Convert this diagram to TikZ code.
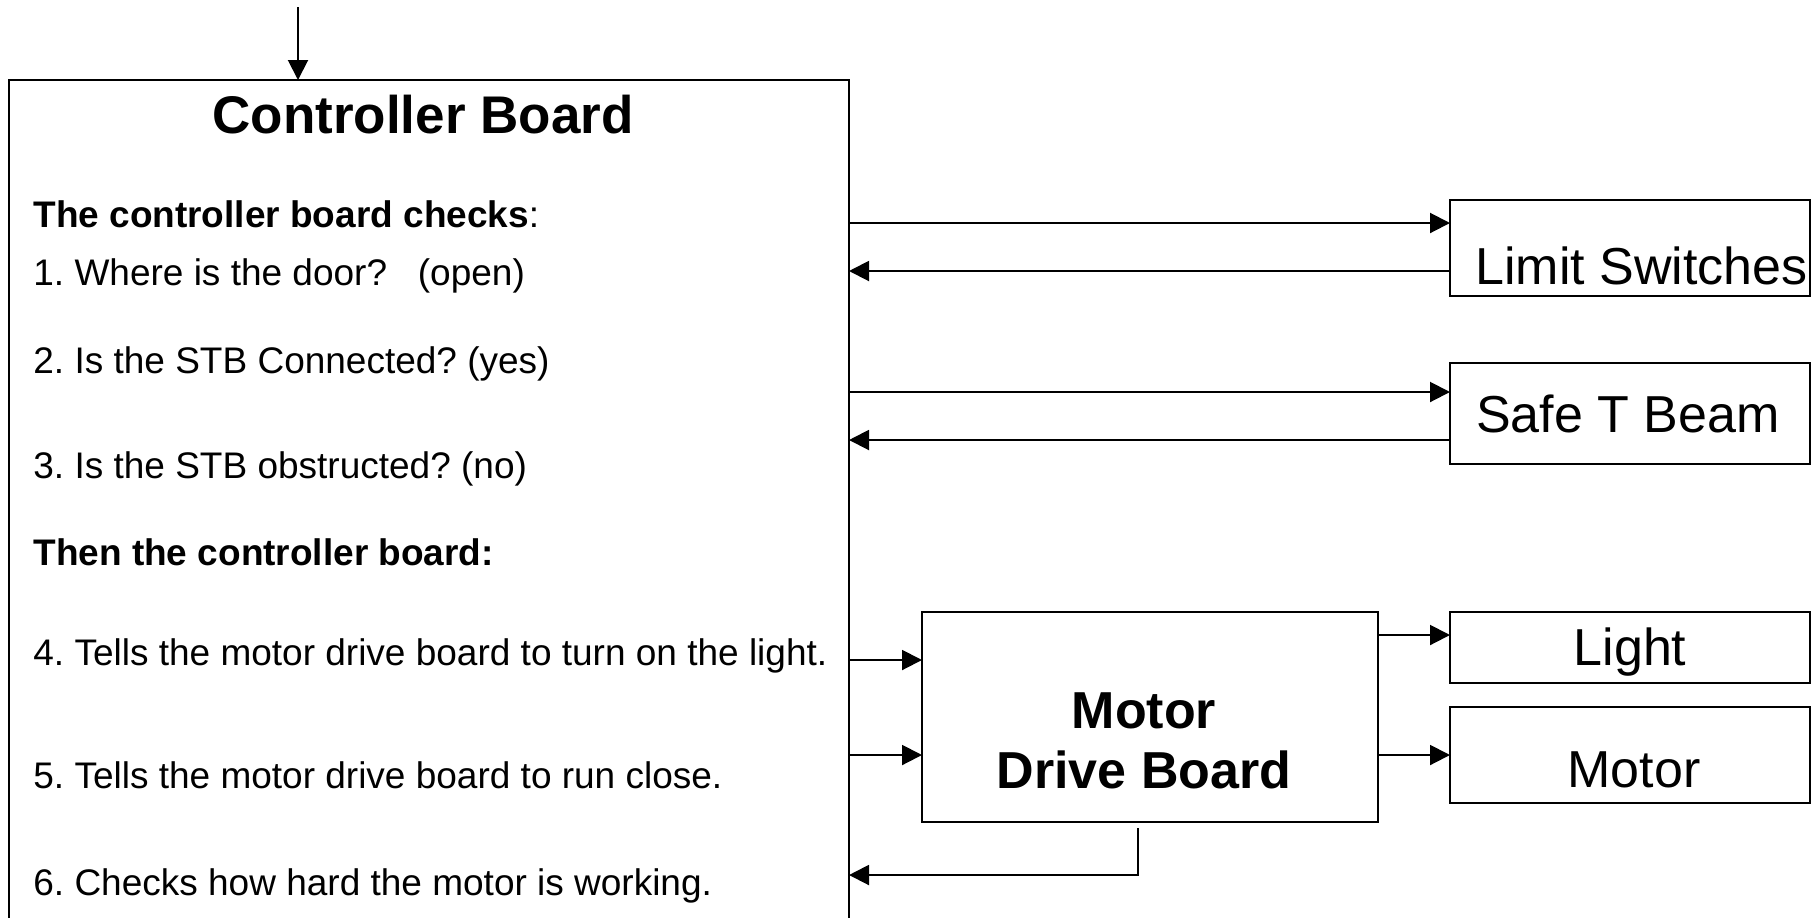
\documentclass[tikz,border=0pt]{standalone}
\usepackage{fontspec}
\setmainfont{Liberation Sans}
\usetikzlibrary{arrows.meta}
\frenchspacing
\begin{document}
\begin{tikzpicture}[x=0.5pt, y=-0.5pt,
  box/.style={draw, line width=1pt, inner sep=0pt, outer sep=0pt, anchor=north west},
  arr/.style={line width=1pt, -{Triangle[length=10pt, width=10pt]}},
  body/.style={font=\fontsize{18.5pt}{22pt}\selectfont, inner sep=0pt, anchor=base west},
  titletext/.style={font=\fontsize{26.5pt}{30pt}\selectfont\bfseries, inner sep=0pt, anchor=base},
  bigtext/.style={font=\fontsize{26pt}{30pt}\selectfont, inner sep=0pt, anchor=base},
  bigbold/.style={font=\fontsize{26pt}{30pt}\selectfont\bfseries, inner sep=0pt, anchor=base}]
\useasboundingbox (0,0) rectangle (1819,917);
\clip (0,0) rectangle (1819,917);
\fill[white] (0,0) rectangle (1819,917);

% boxes
\node[box, minimum width=420pt, minimum height=440pt] (cb) at (9,80) {};
\node[box, minimum width=180pt, minimum height=48pt] (ls) at (1450,200) {};
\node[box, minimum width=180pt, minimum height=50.5pt] (stb) at (1450,363) {};
\node[box, minimum width=228pt, minimum height=105pt] (mdb) at (922,612) {};
\node[box, minimum width=180pt, minimum height=35.5pt] (light) at (1450,612) {};
\node[box, minimum width=180pt, minimum height=48pt] (motor) at (1450,707) {};

% texts
\node[titletext] (cbtitle) at (423,133) {Controller Board};
\node[body] (t0) at (33,227) {{\bfseries The controller board checks}:};
\node[body] (t1) at (33,285) {1. Where is the door?\ \ \ (open)};
\node[body] (t2) at (33,373) {2. Is the STB Connected? (yes)};
\node[body] (t3) at (33,478) {3. Is the STB obstructed? (no)};
\node[body] (t4) at (33,565) {\bfseries Then the controller board:};
\node[body] (t5) at (33,665) {4. Tells the motor drive board to turn on the light.};
\node[body] (t6) at (33,788) {5. Tells the motor drive board to run close.};
\node[body] (t7) at (33,895) {6. Checks how hard the motor is working.};

\node[bigtext, anchor=base west] (lstext) at (1475,284) {Limit Switches};
\node[bigtext] (stbtext) at (1628,432) {Safe T Beam};
\node[bigtext] (lighttext) at (1630,665) {Light};
\node[bigtext] (motortext) at (1634,787) {Motor};
\node[bigbold] (mdb1) at (1144,728) {Motor};
\node[bigbold] (mdb2) at (1144,788) {Drive Board};

% helper coordinates
\coordinate (top) at (298,7);
\coordinate (y1) at (0,223);
\coordinate (y2) at (0,271);
\coordinate (y3) at (0,392);
\coordinate (y4) at (0,440);
\coordinate (y5) at (0,660);
\coordinate (y6) at (0,755);
\coordinate (y7) at (0,635);
\coordinate (y8) at (0,875);
\coordinate (fb) at (1138,828);

% connectors
\draw[arr] (top) -- (top |- cb.north);
\draw[arr] (cb.east |- y1) -- (ls.west |- y1);
\draw[arr] (ls.west |- y2) -- (cb.east |- y2);
\draw[arr] (cb.east |- y3) -- (stb.west |- y3);
\draw[arr] (stb.west |- y4) -- (cb.east |- y4);
\draw[arr] (cb.east |- y5) -- (mdb.west |- y5);
\draw[arr] (cb.east |- y6) -- (mdb.west |- y6);
\draw[arr] (mdb.east |- y7) -- (light.west |- y7);
\draw[arr] (mdb.east |- y6) -- (motor.west |- y6);
\draw[arr] (fb) |- (cb.east |- y8);
\end{tikzpicture}
\end{document}
